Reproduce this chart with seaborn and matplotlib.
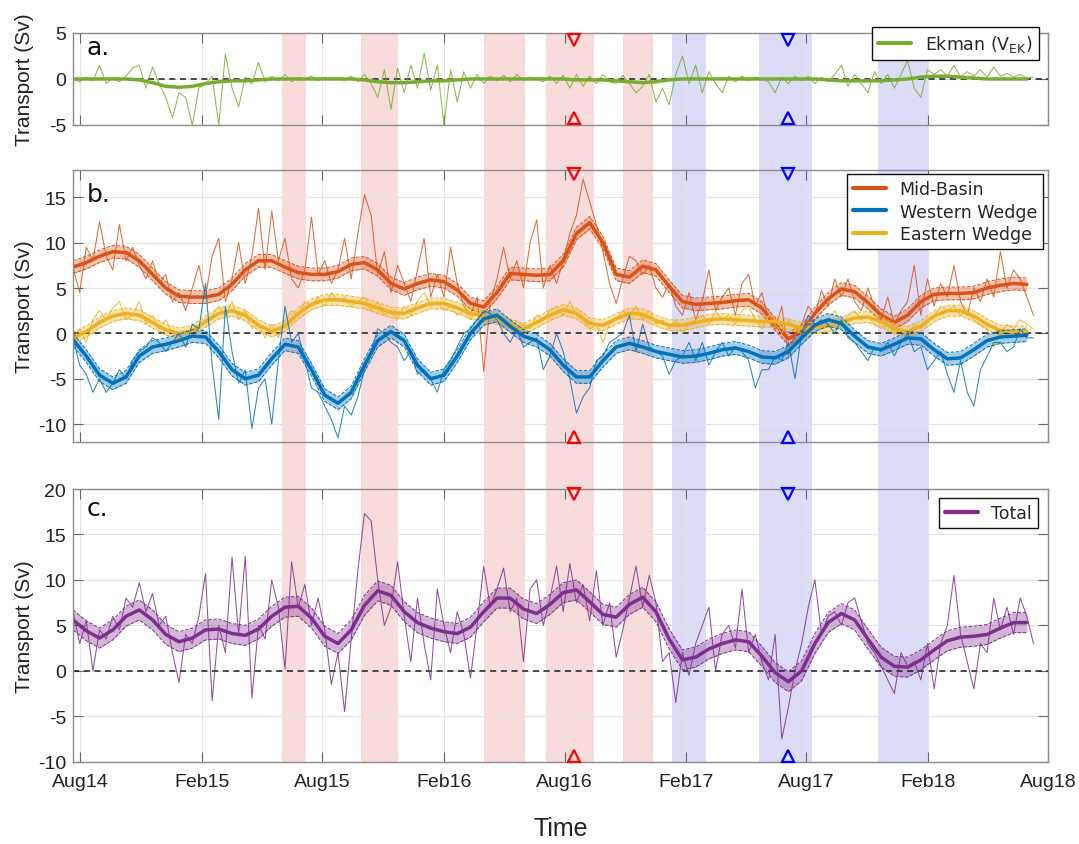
import seaborn as sns
import pandas as pd
import numpy as np
import matplotlib.pyplot as plt
import matplotlib.dates as mdates
from matplotlib.lines import Line2D
from matplotlib.patches import Rectangle
from matplotlib import transforms

sns.set_theme(style="whitegrid")
plt.rcParams['font.family'] = ['Liberation Sans', 'DejaVu Sans']
plt.rcParams['axes.unicode_minus'] = False

# sampling of the series (raw every 10 days, smoothed fit every 20 days)
raw_dates = pd.date_range("2014-07-21", periods=146, freq="10D")
smooth_dates = pd.date_range("2014-07-21", periods=73, freq="20D")

ekman_raw = [
    0.0, -0.3, 0.2, -0.2, 1.5, -0.5, 0.1, -0.3, 0.3, 1.2,
    1.5, -1.0, 1.3, -0.5, -2.0, -4.2, -1.5, -2.0, -5.0, -1.0,
    -0.5, 0.3, -5.0, 2.7, -1.0, -3.0, 0.2, -0.5, 1.8, -0.3,
    0.3, -0.2, 0.5, -0.3, 0.2, 0.0, 0.3, -0.2, 0.2, -0.1,
    0.1, -0.2, 0.3, -0.3, 0.5, -0.5, -2.0, 1.0, -3.3, 1.2,
    -1.5, 1.5, -1.0, 2.8, -1.2, 1.5, -5.0, 1.0, -2.5, 0.8,
    -1.0, 0.5, -0.5, 0.3, -0.2, 0.4, -0.3, 0.5, -0.2, 0.2,
    0.0, -0.3, 0.3, -0.5, 0.4, -1.0, 0.5, -0.8, 0.3, -0.5,
    0.5, -0.3, -0.5, 0.4, -0.5, -1.5, -0.8, 0.5, -2.5, -1.0,
    -2.8, 0.5, 2.5, -0.5, 1.5, -1.5, 0.8, -0.5, -1.5, 0.3,
    -0.3, 0.3, -0.2, 0.2, 0.0, -0.3, -1.5, 0.2, -0.5, 0.3,
    -0.2, 0.3, -0.5, 0.2, -0.3, 0.5, 1.5, -0.8, 0.5, -0.5,
    -1.5, 0.8, -0.5, 0.5, -1.0, 0.5, 2.0, -1.0, -2.0, 1.0,
    0.5, 1.0, 0.3, 1.5, 0.2, 0.8, 0.3, 1.0, 0.2, 1.3,
    0.3, 0.6, 0.2, 0.5, 0.1, 0.2]
ekman_smooth = [
    0.0, 0.0, 0.0, 0.0, 0.0, -0.1, -0.4, -0.8, -0.9, -0.8,
    -0.5, -0.3, -0.2, -0.2, -0.1, 0.0, 0.0, 0.0, 0.0, 0.0,
    0.0, 0.0, -0.1, -0.3, -0.4, -0.4, -0.3, -0.2, -0.2, -0.1,
    0.0, 0.0, 0.0, 0.0, 0.0, 0.0, 0.0, 0.0, -0.1, -0.1,
    -0.1, -0.2, -0.3, -0.4, -0.3, -0.1, 0.0, 0.0, 0.0, 0.0,
    0.0, 0.0, 0.0, 0.0, 0.0, 0.0, 0.0, -0.1, -0.2, -0.2,
    -0.2, -0.2, -0.1, 0.0, 0.2, 0.3, 0.3, 0.2, 0.1, 0.0,
    0.0, 0.0, 0.0]

mid_raw = [
    7.2, 4.5, 9.5, 8.0, 12.3, 8.5, 7.0, 12.0, 8.0, 9.5,
    7.5, 6.0, 8.0, 5.5, 6.5, 3.5, 4.5, 2.5, 5.0, 7.5,
    4.0, 8.5, 10.5, 3.5, 6.0, 10.0, 5.5, 8.5, 13.8, 7.0,
    13.5, 8.0, 10.5, 6.0, 5.0, 7.0, 12.8, 6.5, 8.0, 5.5,
    7.0, 10.5, 6.0, 11.0, 15.3, 13.0, 6.5, 9.0, 4.5, 7.5,
    5.5, 3.5, 7.0, 10.5, 4.0, 6.5, 4.0, 9.5, 5.5, 3.0,
    2.0, 4.0, -4.2, 3.5, 6.0, 9.5, 6.0, 8.0, 5.0, 10.0,
    12.5, 5.0, 7.5, 5.5, 8.0, 11.0, 13.0, 17.0, 14.5, 12.0,
    9.0, 5.5, 3.3, 6.0, 8.5, 8.0, 6.5, 7.5, 5.0, 4.0,
    5.5, 3.0, 2.0, 4.5, 1.5, 3.5, 7.0, 2.5, 4.0, 5.0,
    2.0, 5.5, 6.5, 3.0, 4.5, 1.5, 0.5, 3.0, -2.5, 0.0,
    1.0, 3.0, 2.0, 4.7, 3.0, 6.0, 4.0, 6.0, 3.5, 2.5,
    5.0, 3.0, 1.5, 4.0, 1.0, 2.5, 3.5, 7.5, 2.0, 6.0,
    3.0, 5.5, 4.0, 7.5, 3.5, 2.0, 5.0, 3.5, 6.0, 4.0,
    9.0, 5.0, 7.0, 6.0, 4.0, 2.0]
mid_smooth = [
    7.3, 7.8, 8.5, 9.0, 8.9, 8.0, 6.5, 5.0, 4.1, 4.0,
    4.0, 4.3, 5.4, 7.0, 8.0, 8.0, 7.3, 6.7, 6.5, 6.5,
    6.8, 7.6, 7.8, 7.0, 5.5, 4.9, 5.5, 5.9, 5.7, 4.8,
    3.3, 2.9, 4.5, 6.6, 6.5, 6.4, 6.5, 8.0, 11.0, 12.2,
    10.0, 6.5, 6.2, 7.4, 7.0, 5.2, 3.5, 3.2, 3.3, 3.4,
    3.6, 3.7, 2.8, 1.0, -0.6, 0.2, 2.2, 3.8, 4.9, 4.6,
    3.4, 2.0, 1.2, 2.0, 3.5, 4.3, 4.4, 4.4, 4.5, 5.0,
    5.3, 5.5, 5.4]

west_raw = [
    -0.5, -3.5, -4.5, -6.5, -5.0, -6.5, -5.5, -4.0, -5.0, -3.0,
    -2.0, -1.5, -0.5, -1.0, -2.0, -1.0, 0.0, -1.5, 1.0, 0.5,
    5.5, -3.5, -9.5, 3.0, -2.0, -5.5, -4.0, -10.5, -6.0, -5.0,
    -10.0, -3.0, 3.0, -1.0, 0.0, -3.0, -6.0, -6.5, -8.0, -9.5,
    -11.5, -8.0, -9.0, -7.0, -4.0, -2.0, 0.5, 0.0, -1.0, -1.5,
    -3.0, -2.0, -4.5, -4.0, -5.0, -6.5, -4.0, -3.0, -1.5, 0.0,
    0.5, 1.5, 2.5, 2.2, 1.5, 0.0, -1.0, 0.5, -1.5, -1.0,
    -0.5, -4.0, -2.5, 0.0, -2.0, -5.0, -8.8, -7.0, -6.0, -3.0,
    -2.5, -1.0, -0.5, 0.0, 2.0, -2.0, 1.0, -1.5, -2.0, -2.5,
    -4.5, -3.0, -2.5, -1.0, -3.0, -1.0, -3.5, -2.0, -1.0, -2.5,
    -1.5, -2.0, -3.0, -6.0, -4.0, -4.0, -2.5, -3.0, -1.0, -5.0,
    0.0, 2.0, 1.0, 1.5, 1.0, 0.0, 1.5, -0.5, -1.0, -2.0,
    -3.0, -1.5, -2.0, -1.0, -2.5, -1.0, 0.0, -2.0, -1.5, -4.0,
    -3.0, -2.0, -4.5, -6.5, -3.0, -6.5, -8.0, -4.0, -2.5, -1.0,
    -1.0, -2.0, -1.5, 0.5, -0.5, -0.5]
west_smooth = [
    -0.7, -2.5, -4.6, -5.5, -4.8, -2.5, -1.5, -1.2, -0.8, -0.3,
    -0.4, -2.0, -4.0, -5.0, -4.6, -2.8, -1.2, -1.5, -4.0, -6.8,
    -7.7, -6.5, -3.5, -0.8, 0.2, -0.8, -3.5, -5.0, -4.6, -2.5,
    0.0, 1.6, 2.0, 0.8, -0.3, -0.8, -1.8, -3.5, -4.8, -4.8,
    -3.0, -1.5, -1.1, -1.5, -2.0, -2.3, -2.6, -2.5, -2.2, -1.8,
    -1.6, -2.0, -2.6, -2.7, -2.0, -0.5, 0.9, 1.5, 1.1, -0.3,
    -1.5, -1.8, -1.2, -0.5, -0.6, -1.8, -2.8, -2.7, -1.8, -0.8,
    -0.4, -0.3, -0.2]

east_raw = [
    -0.5, 0.5, -1.0, 1.5, 2.5, 1.5, 2.8, 3.5, 1.5, 2.0,
    3.5, 1.0, 2.0, 0.5, 1.5, 0.0, -0.5, -1.5, 1.0, 0.5,
    1.5, 2.0, 3.0, 2.0, 3.5, 1.5, 2.5, 0.5, 1.0, -0.5,
    1.0, -0.5, 1.5, 2.5, 2.0, 3.5, 3.0, 4.0, 3.0, 4.5,
    3.5, 4.0, 3.0, 3.5, 4.0, 2.5, 3.5, 2.0, 2.5, 1.5,
    3.0, 2.0, 3.5, 4.5, 3.0, 3.5, 2.5, 3.0, 2.0, 2.5,
    1.5, 2.5, 1.0, 2.0, 1.5, 0.5, 1.0, 0.0, 1.0, 0.5,
    2.0, 1.5, 2.5, 3.0, 2.0, 3.5, 2.0, 1.5, 0.5, 1.0,
    -1.0, 1.0, 1.5, 2.5, 2.0, 3.0, 1.5, 2.5, 1.0, 1.5,
    0.5, 1.5, 0.0, 1.0, 1.5, 2.0, 1.0, 2.5, 1.5, 2.0,
    1.0, 2.5, 3.0, 1.5, 0.5, 2.0, 1.0, 0.0, 1.5, 0.5,
    0.0, -0.5, 1.0, 0.5, 1.5, 2.5, 1.0, 2.0, 2.5, 1.5,
    2.0, 1.0, 0.5, 1.0, 0.0, 0.5, -0.5, 1.0, 0.5, 1.5,
    2.0, 3.0, 2.5, 3.0, 2.0, 2.5, 1.5, 1.0, 0.5, -1.5,
    0.0, 1.0, 0.5, 1.5, 1.0, 0.5]
east_smooth = [
    -0.5, 0.2, 1.2, 1.9, 2.2, 2.0, 1.2, 0.4, 0.0, 0.3,
    1.3, 2.2, 2.5, 2.0, 0.9, 0.2, 0.8, 2.2, 3.2, 3.7,
    3.7, 3.5, 3.3, 2.8, 2.3, 2.2, 2.8, 3.3, 3.3, 2.8,
    2.2, 1.9, 1.6, 1.0, 0.5, 1.2, 2.0, 2.6, 2.2, 1.1,
    0.9, 1.6, 2.2, 2.1, 1.4, 0.9, 0.9, 1.2, 1.5, 1.6,
    1.5, 1.4, 1.3, 1.3, 1.0, 0.6, 0.6, 0.8, 1.2, 1.7,
    1.8, 1.3, 0.5, 0.2, 0.8, 1.9, 2.5, 2.5, 1.9, 1.0,
    0.3, 0.2, 0.2]

total_raw = [
    6.5, 3.0, 5.5, 0.0, 4.5, 3.5, 6.0, 4.5, 8.0, 7.0,
    9.7, 6.5, 8.5, 5.0, 6.0, 2.0, -1.3, 4.0, 3.0, 6.0,
    10.7, -3.3, 5.0, 2.0, 12.5, 4.0, 12.6, -3.0, 5.0, 3.5,
    10.0, 7.0, 0.2, 12.0, 7.0, 9.5, 5.0, 8.0, 4.5, -1.5,
    2.0, -4.5, 3.5, 11.0, 17.3, 16.5, 10.0, 5.0, 7.0, 12.0,
    6.0, 1.0, 8.0, 3.0, -1.0, 9.0, 5.0, 2.0, 6.5, 4.0,
    -0.8, 5.0, 11.5, 7.0, 9.0, 11.3, 6.5, 8.0, 1.0, 9.0,
    10.0, 5.0, 8.0, 11.5, 6.5, 11.8, 7.5, 9.5, 5.5, 11.0,
    5.0, 7.5, 1.5, 4.5, 8.0, 11.5, 7.0, 10.5, 7.5, 1.0,
    2.0, -3.5, 2.0, -0.5, 3.0, 5.0, 7.0, 0.0, 4.0, 5.0,
    2.5, 9.0, 2.0, 4.0, 1.0, -1.0, 4.0, -7.5, -4.0, 0.0,
    3.0, 7.0, 10.0, 4.0, 6.0, 6.5, 5.0, 7.5, 8.0, 5.5,
    3.0, 2.0, 0.5, -1.0, -2.5, 2.0, 0.5, 1.0, -1.0, 3.0,
    -2.0, 3.0, 5.0, 10.5, 4.0, 1.0, -2.0, 3.0, 2.0, 8.0,
    4.5, 7.0, 4.0, 8.0, 6.0, 3.0]
total_smooth = [
    5.6, 4.4, 3.6, 4.5, 6.0, 6.7, 5.6, 4.0, 3.2, 3.6,
    4.5, 4.6, 4.1, 3.9, 4.6, 6.0, 7.0, 7.1, 5.8, 3.8,
    3.0, 4.5, 7.2, 8.8, 8.3, 6.5, 5.3, 4.7, 4.3, 4.1,
    4.8, 6.5, 8.0, 8.0, 6.8, 6.3, 7.3, 8.6, 8.9, 7.6,
    6.2, 5.9, 7.3, 8.1, 6.5, 3.5, 1.2, 1.5, 2.4, 3.0,
    3.4, 3.2, 1.6, -0.2, -1.2, 0.0, 3.0, 5.3, 6.3, 5.6,
    3.5, 1.5, 0.5, 0.4, 1.2, 2.3, 3.3, 3.7, 3.8, 4.0,
    4.7, 5.3, 5.3]

# half-width of the confidence band around each fit (Sv)
mid_err, west_err, east_err, total_err = 0.7, 0.7, 0.6, 1.1

# event periods
red_periods = [("2015-06-02", "2015-07-07"), ("2015-09-28", "2015-11-24"),
               ("2016-04-01", "2016-06-03"), ("2016-07-04", "2016-09-15"),
               ("2016-10-29", "2016-12-12")]
blue_periods = [("2017-01-11", "2017-03-03"), ("2017-05-22", "2017-08-10"),
                ("2017-11-17", "2018-02-03")]
red_event = "2016-08-16"
blue_event = "2017-07-05"

c_ek = "#77AC30"
c_mid = "#D95319"
c_west = "#0072BD"
c_east = "#EDB120"
c_tot = "#7E2F8E"

fig = plt.figure(figsize=(10.79, 8.45), dpi=100)
fig.patch.set_facecolor("white")
ax_a = fig.add_axes([0.0677, 0.8509, 0.9036, 0.1089])
ax_b = fig.add_axes([0.0677, 0.4754, 0.9036, 0.3222])
ax_c = fig.add_axes([0.0677, 0.0974, 0.9036, 0.3227])


def draw(ax, raw, smooth, err, color):
    sns.lineplot(x=raw_dates, y=raw, ax=ax, color=color, lw=0.75, alpha=0.85)
    sm = np.array(smooth)
    if err:
        ax.fill_between(smooth_dates, sm - err, sm + err, color=color, alpha=0.35, lw=0)
        sns.lineplot(x=smooth_dates, y=sm + err, ax=ax, color=color, lw=0.7, linestyle="--")
        sns.lineplot(x=smooth_dates, y=sm - err, ax=ax, color=color, lw=0.7, linestyle="--")
    sns.lineplot(x=smooth_dates, y=sm, ax=ax, color=color, lw=2.5)


for ax in (ax_a, ax_b, ax_c):
    ax.set_facecolor("none")
    ax.axhline(0, color="k", ls="--", lw=1.1, zorder=1.5, dashes=(4, 3))

draw(ax_a, ekman_raw, ekman_smooth, 0, c_ek)
draw(ax_b, mid_raw, mid_smooth, mid_err, c_mid)
draw(ax_b, east_raw, east_smooth, east_err, c_east)
draw(ax_b, west_raw, west_smooth, west_err, c_west)
draw(ax_c, total_raw, total_smooth, total_err, c_tot)

# event markers
tri_pos = {ax_a: (0.925, 0.075), ax_b: (0.985, 0.018), ax_c: (0.982, 0.022)}
for ax, (ytop, ybot) in tri_pos.items():
    tr = transforms.blended_transform_factory(ax.transData, ax.transAxes)
    for d, col in ((red_event, "#FF0000"), (blue_event, "#0000FF")):
        dn = mdates.date2num(pd.Timestamp(d))
        ax.plot([dn], [ytop], marker="v", ms=8, mfc="none", mec=col, mew=1.6,
                transform=tr, clip_on=False, zorder=5)
        ax.plot([dn], [ybot], marker="^", ms=8, mfc="none", mec=col, mew=1.6,
                transform=tr, clip_on=False, zorder=5)

# shaded periods spanning all panels
span_tr = transforms.blended_transform_factory(ax_c.transData, fig.transFigure)
for periods, col in ((red_periods, "#F8DCDB"), (blue_periods, "#DCDCF7")):
    for s, e in periods:
        x0 = mdates.date2num(pd.Timestamp(s))
        x1 = mdates.date2num(pd.Timestamp(e))
        fig.add_artist(Rectangle((x0, 0.0974), x1 - x0, 0.9601 - 0.0974,
                                 transform=span_tr, facecolor=col,
                                 edgecolor="none", zorder=-1))

ylims = {ax_a: (-5, 5), ax_b: (-12, 18), ax_c: (-10, 20)}
yticks = {ax_a: [-5, 0, 5], ax_b: [-10, -5, 0, 5, 10, 15],
          ax_c: [-10, -5, 0, 5, 10, 15, 20]}
letters = {ax_a: ("a.", 0.77), ax_b: ("b.", 0.887), ax_c: ("c.", 0.906)}
for ax in (ax_a, ax_b, ax_c):
    ax.set_xlim(pd.Timestamp("2014-07-21"), pd.Timestamp("2018-08-01"))
    ax.set_ylim(*ylims[ax])
    ax.set_yticks(yticks[ax])
    ax.xaxis.set_major_locator(mdates.MonthLocator(bymonth=[2, 8]))
    ax.xaxis.set_major_formatter(mdates.DateFormatter("%b%y"))
    ax.grid(True, color="#E4E4E4", lw=0.8)
    ax.tick_params(direction="in", length=7, width=0.8, color="#666666",
                   top=True, right=True, bottom=True, left=True,
                   labelsize=14, labelcolor="#222222", pad=5)
    for sp in ax.spines.values():
        sp.set_color("#8C8C8C")
        sp.set_linewidth(1.0)
    ax.set_ylabel("Transport (Sv)", fontsize=15, color="#222222")
    ax.yaxis.set_label_coords(-0.04, 0.5)
    ax.set_xlabel("")
    t, yb = letters[ax]
    ax.text(0.014, yb, t, transform=ax.transAxes, fontsize=18,
            family="DejaVu Sans", va="baseline", color="#111111")

ax_a.tick_params(labelbottom=False)
ax_b.tick_params(labelbottom=False)
ax_c.tick_params(axis="x", pad=8)
ax_c.set_xlabel("Time", fontsize=18, color="#222222")
ax_c.xaxis.set_label_coords(0.5, -0.2)


def legend(ax, names, colors, anchor):
    handles = [Line2D([0], [0], color=c, lw=3) for c in colors]
    ax.legend(handles, names, loc="upper right", bbox_to_anchor=anchor,
              borderaxespad=0, frameon=True, fancybox=False, edgecolor="#111111",
              framealpha=1, handlelength=1.9, handletextpad=0.8,
              labelspacing=0.25, borderpad=0.35,
              prop={"family": "DejaVu Sans", "size": 12.5})
    ax.get_legend().get_frame().set_linewidth(1.0)


legend(ax_a, [r"Ekman (V$_{\mathregular{EK}}$)"], [c_ek], (0.9905, 1.065))
legend(ax_b, ["Mid-Basin", "Western Wedge", "Eastern Wedge"],
       [c_mid, c_west, c_east], (0.995, 0.985))
legend(ax_c, ["Total"], [c_tot], (0.99, 0.966))

fig.savefig("out.png", dpi=100)
